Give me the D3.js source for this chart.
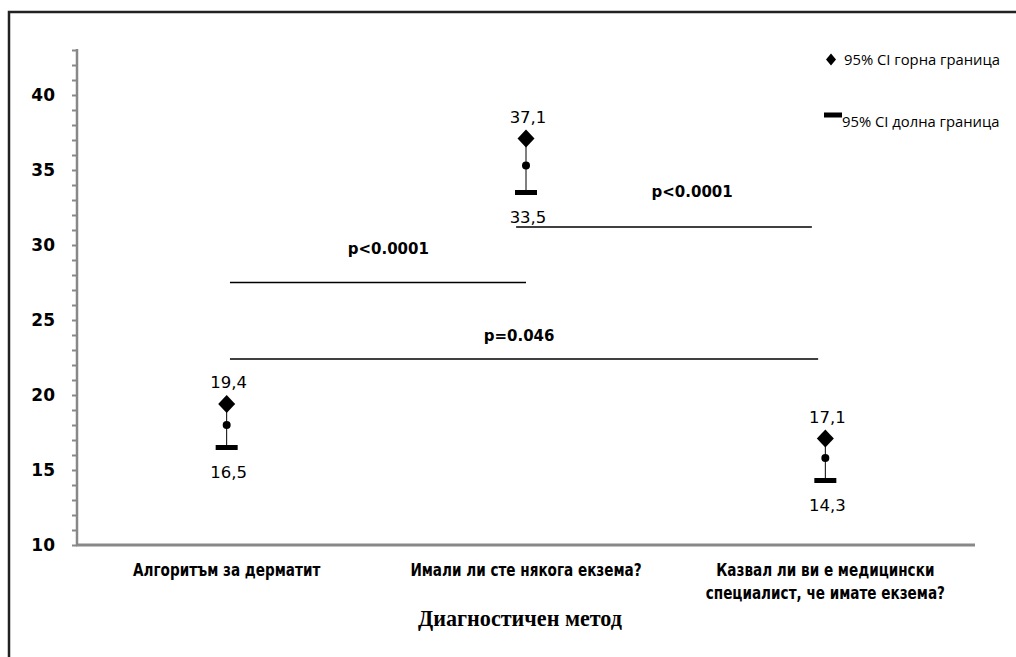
<!DOCTYPE html>
<html><head><meta charset="utf-8">
<script src="https://cdn.jsdelivr.net/npm/d3@7"></script>
<style>body{margin:0;background:#fff}svg{display:block}</style>
</head><body>
<svg id="chart" width="1016" height="657"></svg>
<script>
const categories = ["Алгоритъм за дерматит", "Имали ли сте някога екзема?", "Казвал ли ви е медицински|специалист, че имате екзема?"];
const upper = [19.4, 37.1, 17.1];
const mean  = [18.0, 35.3, 15.8];
const lower = [16.5, 33.5, 14.3];
const upperLabels = ["19,4", "37,1", "17,1"];
const lowerLabels = ["16,5", "33,5", "14,3"];
const yTicks = [10, 15, 20, 25, 30, 35, 40];
// significance brackets: from/to in category index units, level in y units
const sigFrom  = [0.011, 0.967, 0.011];
const sigTo    = [1.0, 1.955, 1.976];
const sigLevel = [27.5, 31.2, 22.4];
const sigText  = ["p<0.0001", "p<0.0001", "p=0.046"];
const sigTextX = [0.54, 1.555, 0.977];
const sigTextY = [29.4, 33.2, 23.6];
const legendLabels = ["95% CI горна граница", "95% CI долна граница"];
const xTitle = "Диагностичен  метод";

const svg = d3.select("#chart");
const x = d3.scaleLinear().domain([-0.5, 2.5]).range([77, 975]);
const y = d3.scaleLinear().domain([10, 43]).range([545, 50]);

// outer frame
svg.append("path").attr("d", "M9,657 V12 H1016").attr("fill", "none").attr("stroke", "#222").attr("stroke-width", 2.5);

// y axis
const yAxis = d3.axisLeft(y).tickValues(d3.range(10, 44, 1)).tickSize(5)
  .tickFormat(d => yTicks.includes(d) ? d : "");
const gy = svg.append("g").attr("transform", "translate(77,0)").call(yAxis);
gy.select(".domain").attr("stroke", "#888").attr("stroke-width", 2.5).attr("d", `M0,${y(43)-1}V${y(10)}`);
gy.selectAll(".tick line").attr("stroke", "#888").attr("stroke-width", 2);
gy.selectAll(".tick text").attr("x", -22).attr("font-family", "DejaVu Sans").attr("font-weight", "bold").attr("font-size", 17).attr("fill", "#000");

// x axis
svg.append("line").attr("x1", 76).attr("x2", x(2.5)).attr("y1", y(10)).attr("y2", y(10))
  .attr("stroke", "#888").attr("stroke-width", 3);

// category labels (condensed look)
categories.forEach((c, i) => {
  const lines = c.split("|");
  lines.forEach((t, j) => {
    svg.append("text").attr("transform", `translate(${x(i)},${576 + j * 23}) scale(0.8,1)`)
      .attr("text-anchor", "middle")
      .attr("font-family", "'DejaVu Sans',sans-serif").attr("font-weight", "bold")
      .attr("font-size", 17).text(t);
  });
});

// axis title
svg.append("text").attr("x", x(0.98)).attr("y", 626).attr("text-anchor", "middle")
  .attr("font-family", "'Liberation Serif',serif").attr("font-weight", "bold").attr("font-size", 23)
  .attr("textLength", 204).attr("lengthAdjust", "spacingAndGlyphs").text(xTitle);

// significance lines
sigLevel.forEach((lv, i) => {
  svg.append("line").attr("x1", x(sigFrom[i])).attr("x2", x(sigTo[i])).attr("y1", y(lv)).attr("y2", y(lv))
    .attr("stroke", "#000").attr("stroke-width", 1.6);
  svg.append("text").attr("x", x(sigTextX[i])).attr("y", y(sigTextY[i])).attr("text-anchor", "middle")
    .attr("font-family", "DejaVu Sans").attr("font-weight", "bold").attr("font-size", 15).text(sigText[i]);
});

// CI marks
categories.forEach((c, i) => {
  const cx = x(i);
  svg.append("line").attr("x1", cx).attr("x2", cx).attr("y1", y(upper[i])).attr("y2", y(lower[i]))
    .attr("stroke", "#000").attr("stroke-width", 1);
  svg.append("path").attr("d", "M0,-9L8.5,0L0,9L-8.5,0Z").attr("transform", `translate(${cx},${y(upper[i])})`).attr("fill", "#000");
  svg.append("circle").attr("cx", cx).attr("cy", y(mean[i])).attr("r", 4).attr("fill", "#000");
  svg.append("rect").attr("x", cx - 11).attr("y", y(lower[i]) - 2.5).attr("width", 22).attr("height", 5).attr("fill", "#000");
  svg.append("text").attr("x", cx + 2).attr("y", y(upper[i]) - 16).attr("text-anchor", "middle")
    .attr("font-family", "DejaVu Sans").attr("font-size", 16.5).text(upperLabels[i]);
  svg.append("text").attr("x", cx + 2).attr("y", y(lower[i]) + 30).attr("text-anchor", "middle")
    .attr("font-family", "DejaVu Sans").attr("font-size", 16.5).text(lowerLabels[i]);
});

// legend
const lg = svg.append("g");
lg.append("path").attr("d", "M0,-6L5,0L0,6L-5,0Z").attr("transform", "translate(831,59.5)").attr("fill", "#000");
lg.append("text").attr("x", 844).attr("y", 65).attr("font-family", "'Open Sans',sans-serif").attr("font-size", 14.8).text(legendLabels[0]);
lg.append("rect").attr("x", 824).attr("y", 112.5).attr("width", 18).attr("height", 5).attr("fill", "#000");
lg.append("text").attr("x", 842).attr("y", 127).attr("font-family", "'Open Sans',sans-serif").attr("font-size", 14.8).text(legendLabels[1]);
</script>
</body></html>
